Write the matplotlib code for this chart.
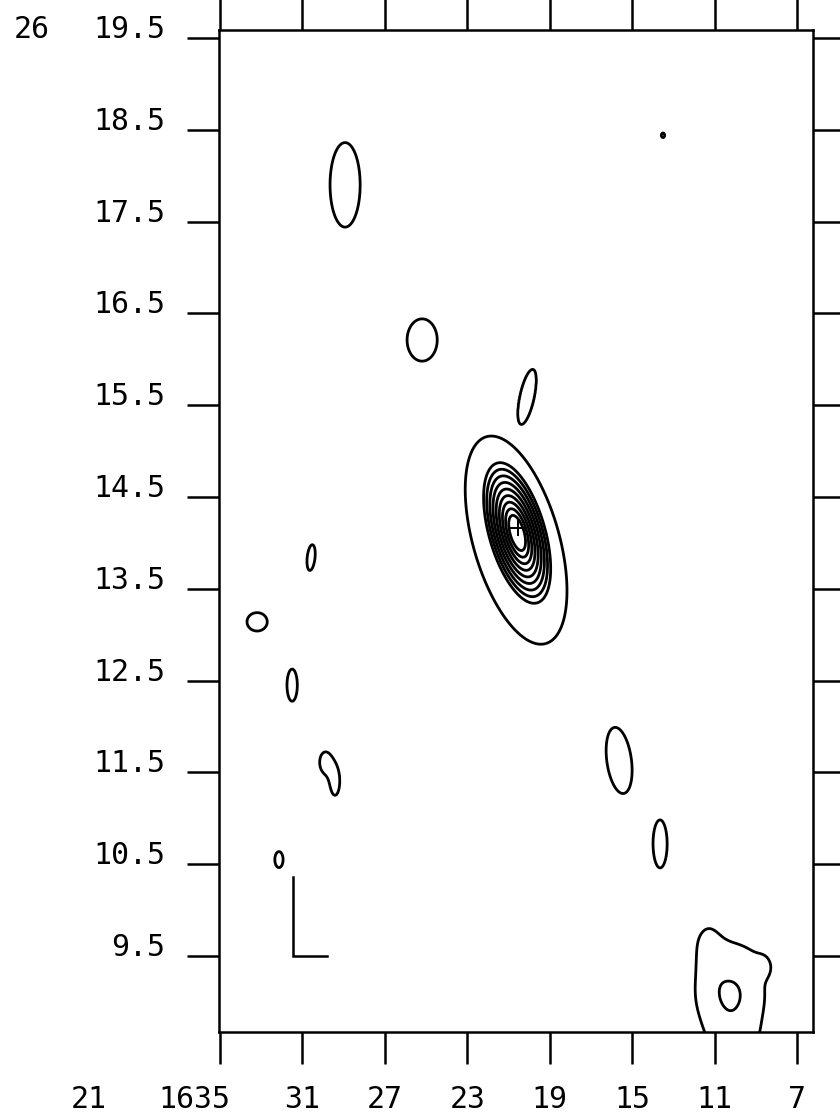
import numpy as np
import matplotlib
matplotlib.use("Agg")
import matplotlib.pyplot as plt

# ---------------- data ----------------
ra_ticks = [35, 31, 27, 23, 19, 15, 11, 7]
ra_labels = ["35", "31", "27", "23", "19", "15", "11", "7"]
dec_ticks = [19.5, 18.5, 17.5, 16.5, 15.5, 14.5, 13.5, 12.5, 11.5, 10.5, 9.5]
dec_labels = ["19.5", "18.5", "17.5", "16.5", "15.5", "14.5", "13.5",
              "12.5", "11.5", "10.5", "9.5"]
ra_prefix_hours = "21"
ra_prefix_minutes = "16"
dec_prefix_degrees = "26"

# emission components: profile, RA (s), Dec ("), amplitude, sigma_RA, sigma_Dec, correlation
src_shape = ["cone", "mesa", "gauss", "gauss", "gauss", "mesa", "gauss", "gauss",
             "gauss", "gauss", "gauss", "gauss", "gauss", "gauss",
             "gauss", "gauss", "gauss", "gauss", "gauss"]
src_ra = [20.58, 20.63, 28.93, 13.50, 25.19, 20.10, 30.58, 33.20, 31.50,
          29.90, 29.42, 32.14, 15.63, 13.64,
          10.24, 11.31, 9.85, 10.00, 8.64]
src_dec = [14.108, 14.03, 17.90, 18.44, 16.21, 15.59, 13.84, 13.14, 12.45,
           11.61, 11.40, 10.55, 11.63, 10.72,
           9.097, 9.62, 9.51, 8.53, 9.40]
src_amp = [11.37, 1.3, 1.65, 1.65, 1.65, 1.3, 1.65, 1.65, 1.65,
           1.5, 1.5, 1.65, 1.65, 1.65,
           2.1, 1.0, 0.6, 0.8, 0.7]
src_sra = [1.735, 2.603, 0.73, 0.08, 0.73, 0.474, 0.20, 0.49, 0.25,
           0.29, 0.25, 0.20, 0.63, 0.34,
           1.36, 0.49, 0.97, 1.21, 0.29]
src_sdec = [0.816, 1.195, 0.46, 0.025, 0.23, 0.316, 0.14, 0.10, 0.175,
            0.12, 0.165, 0.087, 0.36, 0.26,
            0.36, 0.218, 0.13, 0.218, 0.087]
src_rho = [0.506, 0.487, 0.0, 0.0, 0.0, -0.6, -0.3, 0.0, 0.0,
           0.0, 0.0, 0.0, 0.3, 0.0,
           0.0, 0.0, 0.6, 0.0, 0.0]

contour_levels = [1, 2, 3, 4, 5, 6, 7, 8, 9, 10]

beam_ra = [31.46, 31.46, 29.81]
beam_dec = [10.36, 9.50, 9.50]

cross_ra = [20.53]
cross_dec = [14.16]

# ---------------- field ----------------
gx = np.linspace(5.5, 36.0, 1100)
gy = np.linspace(8.3, 19.9, 1700)
X, Y = np.meshgrid(gx, gy)
Z = np.zeros_like(X)
for shp, x0, y0, a, sx, sy, r in zip(src_shape, src_ra, src_dec, src_amp,
                                     src_sra, src_sdec, src_rho):
    dx = (X - x0) / sx
    dy = (Y - y0) / sy
    q = (dx * dx - 2 * r * dx * dy + dy * dy) / (1 - r * r)
    if shp == "cone":
        Z += a * np.clip(1 - np.sqrt(q), 0, None)
    elif shp == "mesa":
        Z += a * np.clip(15 * (1 - np.sqrt(q)), 0, 1)
    else:
        Z += a * np.exp(-0.5 * q)

# ---------------- figure ----------------
plt.rcParams['font.family'] = ['DejaVu Sans Mono']
fig = plt.figure(figsize=(8.4, 11.14), dpi=100)
ax = fig.add_axes([219 / 840, 82 / 1114, 594 / 840, 1002 / 1114])

ax.contour(X, Y, Z, levels=contour_levels, colors='black', linewidths=2.0)
ax.plot(beam_ra, beam_dec, color='black', lw=1.8, solid_joinstyle='miter')
ax.plot(cross_ra, cross_dec, marker='+', color='black', ms=12, mew=1.4, ls='none')

ax.set_xlim(35.05, 6.22)
ax.set_ylim(8.672, 19.587)

for s in ax.spines.values():
    s.set_linewidth(1.8)

ax.set_xticks(ra_ticks)
ax.set_xticklabels([])
ax.set_yticks(dec_ticks)
ax.set_yticklabels([])
ax.tick_params(axis='both', direction='out', length=23, width=1.8,
               top=True, bottom=True, left=True, right=True)

fs = 21.5
xt = ax.get_xaxis_transform()
ax.text(0.0185, -0.053, ra_prefix_minutes + ra_labels[0], transform=ax.transAxes,
        ha='right', va='top', fontsize=fs)
for v, lab in zip(ra_ticks[1:], ra_labels[1:]):
    ax.text(v, -0.053, lab, transform=xt, ha='center', va='top', fontsize=fs)
ax.text(-0.189, -0.053, ra_prefix_hours, transform=ax.transAxes,
        ha='right', va='top', fontsize=fs)

yt = ax.get_yaxis_transform()
for v, lab in zip(dec_ticks, dec_labels):
    ax.text(-0.0909, v, lab, transform=yt, ha='right', va='baseline', fontsize=fs)
ax.text(-0.2845, dec_ticks[0], dec_prefix_degrees, transform=yt,
        ha='right', va='baseline', fontsize=fs)

fig.savefig("out.png", dpi=100)
